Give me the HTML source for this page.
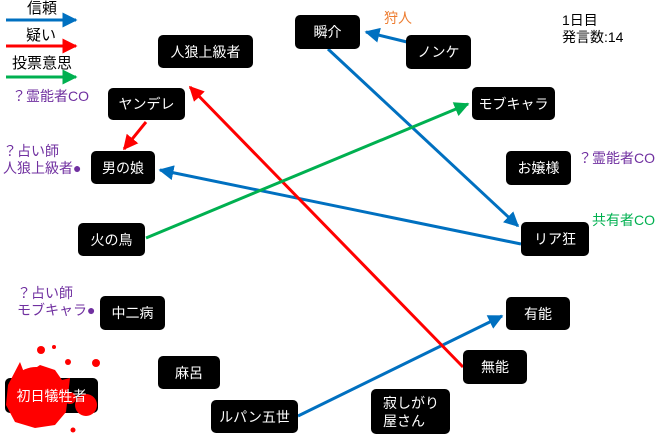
<!DOCTYPE html>
<html><head><meta charset="utf-8"><style>
body{margin:0;width:660px;height:437px;background:#fff;position:relative;overflow:hidden;font-family:"Liberation Sans","Noto Sans CJK JP",sans-serif;}
.b{position:absolute;background:#000;color:#fff;border-radius:5px;font-size:14px;display:flex;align-items:center;justify-content:center;box-sizing:border-box;}
.t{position:absolute;font-size:14px;line-height:17px;white-space:nowrap;}
svg{position:absolute;left:0;top:0;}
</style></head><body>
<div class="b" style="left:5px;top:378px;width:93px;height:35px"></div>
<svg width="660" height="437">
<defs>
<marker id="bl" markerWidth="5" markerHeight="5" refX="4.5" refY="2.5" orient="auto" markerUnits="strokeWidth"><path d="M0,0L5,2.5L0,5z" fill="#0070c0"/></marker>
<marker id="rd" markerWidth="5" markerHeight="5" refX="4.5" refY="2.5" orient="auto" markerUnits="strokeWidth"><path d="M0,0L5,2.5L0,5z" fill="#ff0000"/></marker>
<marker id="gr" markerWidth="5" markerHeight="5" refX="4.5" refY="2.5" orient="auto" markerUnits="strokeWidth"><path d="M0,0L5,2.5L0,5z" fill="#00b050"/></marker>
</defs>
<g stroke-width="3" fill="none">
<line x1="6" y1="20" x2="76" y2="20" stroke="#0070c0" marker-end="url(#bl)"/>
<line x1="6" y1="46" x2="76" y2="46" stroke="#ff0000" marker-end="url(#rd)"/>
<line x1="6" y1="77" x2="76" y2="77" stroke="#00b050" marker-end="url(#gr)"/>
<line x1="328" y1="49" x2="518" y2="226" stroke="#0070c0" marker-end="url(#bl)"/>
<line x1="407" y1="42" x2="366" y2="32" stroke="#0070c0" marker-end="url(#bl)"/>
<line x1="521" y1="244" x2="160" y2="170" stroke="#0070c0" marker-end="url(#bl)"/>
<line x1="298" y1="416" x2="502" y2="316" stroke="#0070c0" marker-end="url(#bl)"/>
<line x1="463" y1="367" x2="190" y2="87" stroke="#ff0000" marker-end="url(#rd)"/>
<line x1="146" y1="122" x2="124" y2="149" stroke="#ff0000" marker-end="url(#rd)"/>
<line x1="146" y1="238" x2="468" y2="104" stroke="#00b050" marker-end="url(#gr)"/>
</g>
<g fill="#ff0000">
<path d="M20,362 L25,375 L40,365 L55,370 L62,380 L70,378 L68,395 L66,412 L55,425 L35,428 L15,422 L6,405 L8,385 Z"/>
<circle cx="36" cy="395" r="28"/><circle cx="86" cy="405" r="11"/><circle cx="70" cy="398" r="6"/>
<circle cx="41" cy="350" r="4"/><circle cx="54" cy="347" r="2"/><circle cx="68" cy="362" r="3"/><circle cx="96" cy="363" r="4"/><circle cx="73" cy="430" r="2.5"/>
</g>
</svg>
<div class="t" style="left:27px;top:0px;font-size:15px">信頼</div>
<div class="t" style="left:26px;top:27px;font-size:15px">疑い</div>
<div class="t" style="left:12px;top:55px;font-size:15px">投票意思</div>
<div class="t" style="left:12px;top:88px;color:#7030a0">？霊能者CO</div>
<div class="t" style="left:3px;top:143px;color:#7030a0">？占い師<br>人狼上級者●</div>
<div class="t" style="left:17px;top:285px;color:#7030a0">？占い師<br>モブキャラ●</div>
<div class="t" style="left:384px;top:10px;color:#ed7d31">狩人</div>
<div class="t" style="left:562px;top:12px">1日目<br>発言数:14</div>
<div class="t" style="left:578px;top:150px;color:#7030a0">？霊能者CO</div>
<div class="t" style="left:592px;top:212px;color:#00b050">共有者CO</div>
<div class="b" style="left:158px;top:35px;width:95px;height:33px">人狼上級者</div>
<div class="b" style="left:108px;top:88px;width:77px;height:32px">ヤンデレ</div>
<div class="b" style="left:91px;top:151px;width:64px;height:33px">男の娘</div>
<div class="b" style="left:78px;top:223px;width:67px;height:33px">火の鳥</div>
<div class="b" style="left:100px;top:296px;width:65px;height:34px">中二病</div>
<div class="b" style="left:158px;top:356px;width:62px;height:33px">麻呂</div>
<div class="b" style="left:5px;top:378px;width:93px;height:35px;background:transparent">初日犠牲者</div>
<div class="b" style="left:211px;top:400px;width:87px;height:33px">ルパン五世</div>
<div class="b" style="left:371px;top:389px;width:79px;height:45px;justify-content:flex-start;padding-left:12px;line-height:18px">寂しがり<br>屋さん</div>
<div class="b" style="left:463px;top:350px;width:64px;height:34px">無能</div>
<div class="b" style="left:506px;top:297px;width:64px;height:33px">有能</div>
<div class="b" style="left:521px;top:222px;width:68px;height:34px">リア狂</div>
<div class="b" style="left:506px;top:151px;width:65px;height:34px">お嬢様</div>
<div class="b" style="left:472px;top:87px;width:83px;height:33px">モブキャラ</div>
<div class="b" style="left:295px;top:15px;width:65px;height:34px">瞬介</div>
<div class="b" style="left:406px;top:35px;width:65px;height:34px">ノンケ</div>
</body></html>
